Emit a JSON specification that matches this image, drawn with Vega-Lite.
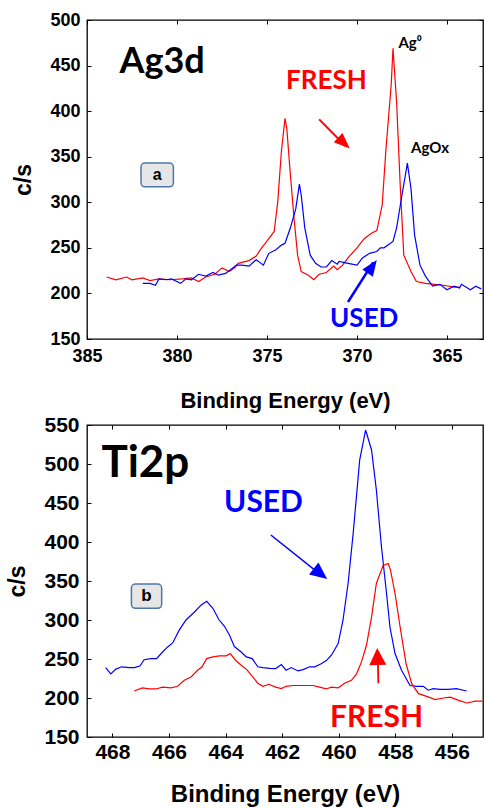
{
  "$schema": "https://vega.github.io/schema/vega-lite/v6.json",
  "padding": {"left": 6, "top": 10, "right": 0, "bottom": 0},
  "background": "white",
  "columns": 1,
  "align": "none",
  "spacing": 1,
  "config": {
    "view": {"stroke": "#000", "strokeWidth": 1.3},
    "axis": {"grid": false, "domain": false, "labelFlush": false, "labelFont": "Liberation Sans", "labelFontWeight": "bold", "labelColor": "#000", "titleFont": "Liberation Sans", "titleFontWeight": "bold", "titleColor": "#000", "tickColor": "#000", "tickSize": -4, "tickWidth": 1}
  },
  "datasets": {
    "ag": [
      {"series": "FRESH", "x": 383.9, "y": 218}, {"series": "FRESH", "x": 383.4, "y": 215}, {"series": "FRESH", "x": 382.8, "y": 218}, {"series": "FRESH", "x": 382.5, "y": 215}, {"series": "FRESH", "x": 381.9, "y": 217}, {"series": "FRESH", "x": 381.5, "y": 214}, {"series": "FRESH", "x": 381.0, "y": 216}, {"series": "FRESH", "x": 380.4, "y": 215}, {"series": "FRESH", "x": 379.7, "y": 216}, {"series": "FRESH", "x": 379.2, "y": 217}, {"series": "FRESH", "x": 378.8, "y": 213}, {"series": "FRESH", "x": 378.4, "y": 218}, {"series": "FRESH", "x": 377.9, "y": 221}, {"series": "FRESH", "x": 377.5, "y": 228}, {"series": "FRESH", "x": 377.1, "y": 224}, {"series": "FRESH", "x": 376.8, "y": 228}, {"series": "FRESH", "x": 376.6, "y": 233}, {"series": "FRESH", "x": 376.0, "y": 236}, {"series": "FRESH", "x": 375.6, "y": 241}, {"series": "FRESH", "x": 375.3, "y": 250}, {"series": "FRESH", "x": 375.1, "y": 255}, {"series": "FRESH", "x": 374.6, "y": 268}, {"series": "FRESH", "x": 374.4, "y": 301}, {"series": "FRESH", "x": 374.2, "y": 356}, {"series": "FRESH", "x": 374.0, "y": 392}, {"series": "FRESH", "x": 373.9, "y": 381}, {"series": "FRESH", "x": 373.7, "y": 330}, {"series": "FRESH", "x": 373.5, "y": 283}, {"series": "FRESH", "x": 373.3, "y": 242}, {"series": "FRESH", "x": 373.1, "y": 224}, {"series": "FRESH", "x": 372.7, "y": 220}, {"series": "FRESH", "x": 372.4, "y": 215}, {"series": "FRESH", "x": 372.1, "y": 221}, {"series": "FRESH", "x": 371.7, "y": 223}, {"series": "FRESH", "x": 371.3, "y": 230}, {"series": "FRESH", "x": 371.1, "y": 226}, {"series": "FRESH", "x": 370.8, "y": 231}, {"series": "FRESH", "x": 370.5, "y": 239}, {"series": "FRESH", "x": 370.0, "y": 250}, {"series": "FRESH", "x": 369.6, "y": 260}, {"series": "FRESH", "x": 369.2, "y": 266}, {"series": "FRESH", "x": 368.9, "y": 269}, {"series": "FRESH", "x": 368.6, "y": 297}, {"series": "FRESH", "x": 368.4, "y": 356}, {"series": "FRESH", "x": 368.1, "y": 429}, {"series": "FRESH", "x": 368.0, "y": 469}, {"series": "FRESH", "x": 367.8, "y": 410}, {"series": "FRESH", "x": 367.6, "y": 319}, {"series": "FRESH", "x": 367.4, "y": 242}, {"series": "FRESH", "x": 367.0, "y": 224}, {"series": "FRESH", "x": 366.7, "y": 213}, {"series": "FRESH", "x": 366.2, "y": 211}, {"series": "FRESH", "x": 365.7, "y": 210}, {"series": "FRESH", "x": 365.2, "y": 209}, {"series": "FRESH", "x": 364.6, "y": 207}, {"series": "FRESH", "x": 364.3, "y": 207},
      {"series": "USED", "x": 381.9, "y": 211}, {"series": "USED", "x": 381.5, "y": 211}, {"series": "USED", "x": 381.2, "y": 209}, {"series": "USED", "x": 381.0, "y": 216}, {"series": "USED", "x": 380.6, "y": 215}, {"series": "USED", "x": 380.3, "y": 216}, {"series": "USED", "x": 380.1, "y": 214}, {"series": "USED", "x": 379.8, "y": 211}, {"series": "USED", "x": 379.5, "y": 216}, {"series": "USED", "x": 379.2, "y": 215}, {"series": "USED", "x": 378.8, "y": 221}, {"series": "USED", "x": 378.4, "y": 219}, {"series": "USED", "x": 378.0, "y": 223}, {"series": "USED", "x": 377.7, "y": 220}, {"series": "USED", "x": 377.3, "y": 222}, {"series": "USED", "x": 376.9, "y": 228}, {"series": "USED", "x": 376.7, "y": 231}, {"series": "USED", "x": 376.4, "y": 231}, {"series": "USED", "x": 376.0, "y": 230}, {"series": "USED", "x": 375.6, "y": 237}, {"series": "USED", "x": 375.2, "y": 231}, {"series": "USED", "x": 374.9, "y": 244}, {"series": "USED", "x": 374.5, "y": 248}, {"series": "USED", "x": 374.2, "y": 253}, {"series": "USED", "x": 374.0, "y": 255}, {"series": "USED", "x": 373.7, "y": 272}, {"series": "USED", "x": 373.4, "y": 293}, {"series": "USED", "x": 373.2, "y": 320}, {"series": "USED", "x": 373.1, "y": 308}, {"series": "USED", "x": 372.9, "y": 272}, {"series": "USED", "x": 372.6, "y": 242}, {"series": "USED", "x": 372.3, "y": 233}, {"series": "USED", "x": 372.0, "y": 229}, {"series": "USED", "x": 371.7, "y": 229}, {"series": "USED", "x": 371.4, "y": 236}, {"series": "USED", "x": 371.1, "y": 232}, {"series": "USED", "x": 371.0, "y": 235}, {"series": "USED", "x": 370.5, "y": 233}, {"series": "USED", "x": 370.0, "y": 231}, {"series": "USED", "x": 369.7, "y": 239}, {"series": "USED", "x": 369.3, "y": 244}, {"series": "USED", "x": 368.9, "y": 246}, {"series": "USED", "x": 368.7, "y": 250}, {"series": "USED", "x": 368.5, "y": 250}, {"series": "USED", "x": 368.0, "y": 257}, {"series": "USED", "x": 367.8, "y": 272}, {"series": "USED", "x": 367.5, "y": 308}, {"series": "USED", "x": 367.2, "y": 343}, {"series": "USED", "x": 367.0, "y": 315}, {"series": "USED", "x": 366.8, "y": 264}, {"series": "USED", "x": 366.5, "y": 231}, {"series": "USED", "x": 366.2, "y": 219}, {"series": "USED", "x": 365.8, "y": 208}, {"series": "USED", "x": 365.4, "y": 210}, {"series": "USED", "x": 365.0, "y": 204}, {"series": "USED", "x": 364.6, "y": 208}, {"series": "USED", "x": 364.3, "y": 206}, {"series": "USED", "x": 364.2, "y": 210}, {"series": "USED", "x": 363.7, "y": 204}, {"series": "USED", "x": 363.4, "y": 208}, {"series": "USED", "x": 363.1, "y": 205}
    ],
    "ti": [
      {"series": "USED", "x": 468.24, "y": 239}, {"series": "USED", "x": 468.06, "y": 231}, {"series": "USED", "x": 467.88, "y": 237}, {"series": "USED", "x": 467.67, "y": 240}, {"series": "USED", "x": 467.41, "y": 239}, {"series": "USED", "x": 467.23, "y": 239}, {"series": "USED", "x": 467.03, "y": 241}, {"series": "USED", "x": 466.88, "y": 249}, {"series": "USED", "x": 466.64, "y": 250.5}, {"series": "USED", "x": 466.44, "y": 250.5}, {"series": "USED", "x": 466.23, "y": 259}, {"series": "USED", "x": 466.05, "y": 265.5}, {"series": "USED", "x": 465.87, "y": 270.6}, {"series": "USED", "x": 465.64, "y": 287}, {"series": "USED", "x": 465.4, "y": 300}, {"series": "USED", "x": 465.11, "y": 310}, {"series": "USED", "x": 464.87, "y": 319}, {"series": "USED", "x": 464.67, "y": 324}, {"series": "USED", "x": 464.45, "y": 315}, {"series": "USED", "x": 464.24, "y": 300.6}, {"series": "USED", "x": 464.04, "y": 292}, {"series": "USED", "x": 463.86, "y": 280.5}, {"series": "USED", "x": 463.69, "y": 266}, {"series": "USED", "x": 463.45, "y": 259}, {"series": "USED", "x": 463.27, "y": 252.7}, {"series": "USED", "x": 463.06, "y": 250.5}, {"series": "USED", "x": 462.86, "y": 240}, {"series": "USED", "x": 462.68, "y": 239}, {"series": "USED", "x": 462.44, "y": 238}, {"series": "USED", "x": 462.23, "y": 237.7}, {"series": "USED", "x": 462.03, "y": 242.8}, {"series": "USED", "x": 461.86, "y": 235.6}, {"series": "USED", "x": 461.68, "y": 239}, {"series": "USED", "x": 461.44, "y": 234.7}, {"series": "USED", "x": 461.26, "y": 236.4}, {"series": "USED", "x": 461.03, "y": 240}, {"series": "USED", "x": 460.85, "y": 240}, {"series": "USED", "x": 460.62, "y": 244}, {"series": "USED", "x": 460.44, "y": 248}, {"series": "USED", "x": 460.26, "y": 254.8}, {"series": "USED", "x": 460.02, "y": 269.8}, {"series": "USED", "x": 459.85, "y": 299.7}, {"series": "USED", "x": 459.67, "y": 346.8}, {"series": "USED", "x": 459.49, "y": 411}, {"series": "USED", "x": 459.26, "y": 505}, {"series": "USED", "x": 459.05, "y": 543.6}, {"series": "USED", "x": 458.84, "y": 518}, {"series": "USED", "x": 458.67, "y": 466.6}, {"series": "USED", "x": 458.49, "y": 393.9}, {"series": "USED", "x": 458.31, "y": 334}, {"series": "USED", "x": 458.19, "y": 291}, {"series": "USED", "x": 458.01, "y": 257}, {"series": "USED", "x": 457.78, "y": 235.6}, {"series": "USED", "x": 457.48, "y": 216}, {"series": "USED", "x": 457.25, "y": 215}, {"series": "USED", "x": 457.01, "y": 215}, {"series": "USED", "x": 456.84, "y": 210}, {"series": "USED", "x": 456.66, "y": 212}, {"series": "USED", "x": 456.42, "y": 211}, {"series": "USED", "x": 456.13, "y": 211}, {"series": "USED", "x": 455.84, "y": 212}, {"series": "USED", "x": 455.48, "y": 209},
      {"series": "FRESH", "x": 467.23, "y": 209}, {"series": "FRESH", "x": 466.94, "y": 213}, {"series": "FRESH", "x": 466.7, "y": 211.6}, {"series": "FRESH", "x": 466.46, "y": 211.6}, {"series": "FRESH", "x": 466.23, "y": 214}, {"series": "FRESH", "x": 465.93, "y": 213}, {"series": "FRESH", "x": 465.7, "y": 215}, {"series": "FRESH", "x": 465.46, "y": 222.7}, {"series": "FRESH", "x": 465.22, "y": 227}, {"series": "FRESH", "x": 464.99, "y": 235.6}, {"series": "FRESH", "x": 464.83, "y": 240}, {"series": "FRESH", "x": 464.67, "y": 250.5}, {"series": "FRESH", "x": 464.45, "y": 252.7}, {"series": "FRESH", "x": 464.22, "y": 254}, {"series": "FRESH", "x": 463.98, "y": 254}, {"series": "FRESH", "x": 463.83, "y": 257}, {"series": "FRESH", "x": 463.65, "y": 248.4}, {"series": "FRESH", "x": 463.45, "y": 242}, {"series": "FRESH", "x": 463.25, "y": 236.4}, {"series": "FRESH", "x": 463.04, "y": 227}, {"series": "FRESH", "x": 462.86, "y": 219}, {"series": "FRESH", "x": 462.68, "y": 215}, {"series": "FRESH", "x": 462.47, "y": 217.6}, {"series": "FRESH", "x": 462.23, "y": 214}, {"series": "FRESH", "x": 462.03, "y": 212}, {"series": "FRESH", "x": 461.86, "y": 215}, {"series": "FRESH", "x": 461.62, "y": 216}, {"series": "FRESH", "x": 461.38, "y": 216}, {"series": "FRESH", "x": 461.15, "y": 216}, {"series": "FRESH", "x": 460.91, "y": 216}, {"series": "FRESH", "x": 460.68, "y": 214}, {"series": "FRESH", "x": 460.44, "y": 211.6}, {"series": "FRESH", "x": 460.26, "y": 214}, {"series": "FRESH", "x": 460.02, "y": 213}, {"series": "FRESH", "x": 459.79, "y": 219}, {"series": "FRESH", "x": 459.55, "y": 222.7}, {"series": "FRESH", "x": 459.37, "y": 231}, {"series": "FRESH", "x": 459.2, "y": 246}, {"series": "FRESH", "x": 459.02, "y": 267.6}, {"series": "FRESH", "x": 458.84, "y": 304}, {"series": "FRESH", "x": 458.67, "y": 346.8}, {"series": "FRESH", "x": 458.43, "y": 370}, {"series": "FRESH", "x": 458.25, "y": 372.5}, {"series": "FRESH", "x": 458.17, "y": 364}, {"series": "FRESH", "x": 458.01, "y": 334}, {"series": "FRESH", "x": 457.83, "y": 291}, {"series": "FRESH", "x": 457.62, "y": 244}, {"series": "FRESH", "x": 457.42, "y": 218.4}, {"series": "FRESH", "x": 457.18, "y": 205.6}, {"series": "FRESH", "x": 456.89, "y": 202}, {"series": "FRESH", "x": 456.59, "y": 198}, {"series": "FRESH", "x": 456.3, "y": 200}, {"series": "FRESH", "x": 456.06, "y": 201}, {"series": "FRESH", "x": 455.76, "y": 197}, {"series": "FRESH", "x": 455.47, "y": 193.6}, {"series": "FRESH", "x": 455.17, "y": 196}, {"series": "FRESH", "x": 454.93, "y": 196}
    ]
  },
  "concat": [
    {
      "width": 396,
      "height": 319,
      "resolve": {"axis": {"x": "independent", "y": "independent"}},
      "layer": [
        {
          "data": {"name": "ag"},
          "mark": {"type": "line", "strokeWidth": 1.2, "clip": true},
          "encoding": {
            "x": {"field": "x", "type": "quantitative", "scale": {"domain": [363, 385], "reverse": true, "nice": false, "zero": false},
                  "axis": {"orient": "bottom", "values": [385, 380, 375, 370, 365], "labelFontSize": 18, "labelPadding": 12, "title": "Binding Energy (eV)", "titleFontSize": 22, "titlePadding": 25}},
            "y": {"field": "y", "type": "quantitative", "scale": {"domain": [150, 500], "nice": false, "zero": false},
                  "axis": {"orient": "left", "values": [150, 200, 250, 300, 350, 400, 450, 500], "labelFontSize": 18, "labelPadding": 11, "title": "c/s", "titleFontSize": 23, "titlePadding": 14}},
            "color": {"field": "series", "type": "nominal", "scale": {"domain": ["FRESH", "USED"], "range": ["#ff0000", "#0000ff"]}, "legend": null}
          }
        },
        {
          "data": {"values": [{"x": 382.0, "x2": 380.2, "y": 343, "y2": 317}]},
          "mark": {"type": "rect", "fill": "#e6e6e6", "stroke": "#4a78a8", "strokeWidth": 1.5, "cornerRadius": 4},
          "encoding": {
            "x": {"field": "x", "type": "quantitative", "axis": {"orient": "top", "values": [385, 380, 375, 370, 365], "labels": false, "title": null}},
            "x2": {"field": "x2"},
            "y": {"field": "y", "type": "quantitative", "axis": {"orient": "right", "values": [150, 200, 250, 300, 350, 400, 450, 500], "labels": false, "title": null}},
            "y2": {"field": "y2"}
          }
        },
        {
          "data": {"values": [{"x": 381.1, "y": 330, "label": "a"}]},
          "mark": {"type": "text", "font": "Liberation Sans", "fontWeight": "bold", "fontSize": 16, "color": "#000", "baseline": "middle", "align": "center"},
          "encoding": {"x": {"field": "x", "type": "quantitative", "axis": null}, "y": {"field": "y", "type": "quantitative", "axis": null}, "text": {"field": "label"}}
        },
        {
          "data": {"values": [{"x": 372.1, "y": 391, "x2": 370.6, "y2": 361}]},
          "mark": {"type": "rule", "color": "#ff0000", "strokeWidth": 2},
          "encoding": {"x": {"field": "x", "type": "quantitative", "axis": null}, "y": {"field": "y", "type": "quantitative", "axis": null}, "x2": {"field": "x2"}, "y2": {"field": "y2"}}
        },
        {
          "data": {"values": [{"x": 370.4, "y": 359}]},
          "mark": {"type": "point", "shape": "M0,0L0.8,2L-0.8,2Z", "filled": true, "color": "#ff0000", "opacity": 1, "size": 256, "angle": 133},
          "encoding": {"x": {"field": "x", "type": "quantitative", "axis": null}, "y": {"field": "y", "type": "quantitative", "axis": null}}
        },
        {
          "data": {"values": [{"x": 370.5, "y": 190.6, "x2": 369.1, "y2": 234}]},
          "mark": {"type": "rule", "color": "#0000ff", "strokeWidth": 2.5},
          "encoding": {"x": {"field": "x", "type": "quantitative", "axis": null}, "y": {"field": "y", "type": "quantitative", "axis": null}, "x2": {"field": "x2"}, "y2": {"field": "y2"}}
        },
        {
          "data": {"values": [{"x": 368.9, "y": 236.6}]},
          "mark": {"type": "point", "shape": "M0,0L0.8,2L-0.8,2Z", "filled": true, "color": "#0000ff", "opacity": 1, "size": 256, "angle": 35},
          "encoding": {"x": {"field": "x", "type": "quantitative", "axis": null}, "y": {"field": "y", "type": "quantitative", "axis": null}}
        },
        {
          "data": {"values": [{"x": 383.2, "y": 441.7, "label": "Ag3d"}]},
          "mark": {"type": "text", "font": "Lato", "fontWeight": "bold", "fontSize": 36, "color": "#000", "baseline": "alphabetic", "align": "left"},
          "encoding": {"x": {"field": "x", "type": "quantitative", "axis": null}, "y": {"field": "y", "type": "quantitative", "axis": null}, "text": {"field": "label"}}
        },
        {
          "data": {"values": [{"x": 371.7, "y": 433, "label": "FRESH"}]},
          "mark": {"type": "text", "font": "Lato", "fontWeight": "bold", "fontSize": 26, "color": "#ff0000", "baseline": "middle", "align": "center"},
          "encoding": {"x": {"field": "x", "type": "quantitative", "axis": null}, "y": {"field": "y", "type": "quantitative", "axis": null}, "text": {"field": "label"}}
        },
        {
          "data": {"values": [{"x": 369.6, "y": 172, "label": "USED"}]},
          "mark": {"type": "text", "font": "Lato", "fontWeight": "bold", "fontSize": 26, "color": "#0000ff", "baseline": "middle", "align": "center"},
          "encoding": {"x": {"field": "x", "type": "quantitative", "axis": null}, "y": {"field": "y", "type": "quantitative", "axis": null}, "text": {"field": "label"}}
        },
        {
          "data": {"values": [{"x": 367.7, "y": 474.6, "label": "Ag⁰"}, {"x": 367.0, "y": 359.4, "label": "AgOx"}]},
          "mark": {"type": "text", "font": "Lato", "fontWeight": "bold", "fontSize": 15, "color": "#000", "baseline": "middle", "align": "left"},
          "encoding": {"x": {"field": "x", "type": "quantitative", "axis": null}, "y": {"field": "y", "type": "quantitative", "axis": null}, "text": {"field": "label"}}
        }
      ]
    },
    {
      "width": 396,
      "height": 312,
      "resolve": {"axis": {"x": "independent", "y": "independent"}},
      "layer": [
        {
          "data": {"name": "ti"},
          "mark": {"type": "line", "strokeWidth": 1.2, "clip": true},
          "encoding": {
            "x": {"field": "x", "type": "quantitative", "scale": {"domain": [454.9, 468.9], "reverse": true, "nice": false, "zero": false},
                  "axis": {"orient": "bottom", "values": [468, 466, 464, 462, 460, 458, 456], "labelFontSize": 21, "labelPadding": 8, "title": "Binding Energy (eV)", "titleFontSize": 24, "titlePadding": 20}},
            "y": {"field": "y", "type": "quantitative", "scale": {"domain": [150, 550], "nice": false, "zero": false},
                  "axis": {"orient": "left", "values": [150, 200, 250, 300, 350, 400, 450, 500, 550], "labelFontSize": 21, "labelPadding": 12, "title": "c/s", "titleFontSize": 23, "titlePadding": 14}},
            "color": {"field": "series", "type": "nominal", "scale": {"domain": ["FRESH", "USED"], "range": ["#ff0000", "#0000ff"]}, "legend": null}
          }
        },
        {
          "data": {"values": [{"x": 467.33, "x2": 466.26, "y": 346, "y2": 315}]},
          "mark": {"type": "rect", "fill": "#e6e6e6", "stroke": "#4a78a8", "strokeWidth": 1.5, "cornerRadius": 4},
          "encoding": {
            "x": {"field": "x", "type": "quantitative", "axis": {"orient": "top", "values": [468, 466, 464, 462, 460, 458, 456], "labels": false, "title": null}},
            "x2": {"field": "x2"},
            "y": {"field": "y", "type": "quantitative", "axis": null},
            "y2": {"field": "y2"}
          }
        },
        {
          "data": {"values": [{"x": 466.8, "y": 330.5, "label": "b"}]},
          "mark": {"type": "text", "font": "Liberation Sans", "fontWeight": "bold", "fontSize": 17, "color": "#000", "baseline": "middle", "align": "center"},
          "encoding": {"x": {"field": "x", "type": "quantitative", "axis": null}, "y": {"field": "y", "type": "quantitative", "axis": null}, "text": {"field": "label"}}
        },
        {
          "data": {"values": [{"x": 462.4, "y": 409, "x2": 460.6, "y2": 357}]},
          "mark": {"type": "rule", "color": "#0000ff", "strokeWidth": 1.5},
          "encoding": {"x": {"field": "x", "type": "quantitative", "axis": null}, "y": {"field": "y", "type": "quantitative", "axis": null}, "x2": {"field": "x2"}, "y2": {"field": "y2"}}
        },
        {
          "data": {"values": [{"x": 460.41, "y": 352.6}]},
          "mark": {"type": "point", "shape": "M0,0L0.9,2L-0.9,2Z", "filled": true, "color": "#0000ff", "opacity": 1, "size": 289, "angle": 128},
          "encoding": {"x": {"field": "x", "type": "quantitative", "axis": null}, "y": {"field": "y", "type": "quantitative", "axis": null}}
        },
        {
          "data": {"values": [{"x": 458.6, "y": 219, "x2": 458.62, "y2": 255}]},
          "mark": {"type": "rule", "color": "#ff0000", "strokeWidth": 1.8},
          "encoding": {"x": {"field": "x", "type": "quantitative", "axis": null}, "y": {"field": "y", "type": "quantitative", "axis": null}, "x2": {"field": "x2"}, "y2": {"field": "y2"}}
        },
        {
          "data": {"values": [{"x": 458.64, "y": 264}]},
          "mark": {"type": "point", "shape": "M0,0L1,2L-1,2Z", "filled": true, "color": "#ff0000", "opacity": 1, "size": 289, "angle": -2},
          "encoding": {"x": {"field": "x", "type": "quantitative", "axis": null}, "y": {"field": "y", "type": "quantitative", "axis": null}}
        },
        {
          "data": {"values": [{"x": 468.39, "y": 483, "label": "Ti2p"}]},
          "mark": {"type": "text", "font": "Lato", "fontWeight": "bold", "fontSize": 44, "color": "#000", "baseline": "alphabetic", "align": "left"},
          "encoding": {"x": {"field": "x", "type": "quantitative", "axis": null}, "y": {"field": "y", "type": "quantitative", "axis": null}, "text": {"field": "label"}}
        },
        {
          "data": {"values": [{"x": 462.66, "y": 450, "label": "USED"}]},
          "mark": {"type": "text", "font": "Lato", "fontWeight": "bold", "fontSize": 30, "color": "#0000ff", "baseline": "middle", "align": "center"},
          "encoding": {"x": {"field": "x", "type": "quantitative", "axis": null}, "y": {"field": "y", "type": "quantitative", "axis": null}, "text": {"field": "label"}}
        },
        {
          "data": {"values": [{"x": 458.66, "y": 174.4, "label": "FRESH"}]},
          "mark": {"type": "text", "font": "Lato", "fontWeight": "bold", "fontSize": 30, "color": "#ff0000", "baseline": "middle", "align": "center"},
          "encoding": {"x": {"field": "x", "type": "quantitative", "axis": null}, "y": {"field": "y", "type": "quantitative", "axis": null}, "text": {"field": "label"}}
        }
      ]
    }
  ]
}
